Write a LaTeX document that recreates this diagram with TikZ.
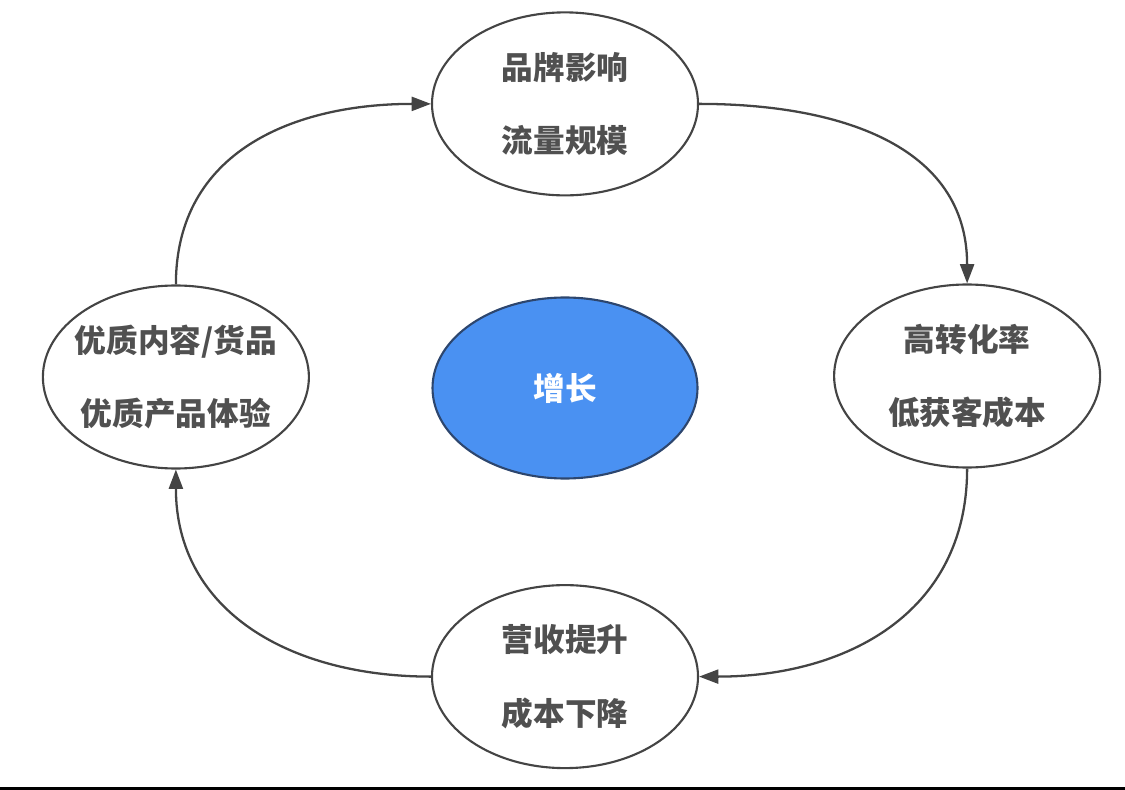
\documentclass[tikz,border=0pt]{standalone}
\usepackage{fontspec}
\newfontfamily\cjk{Noto Sans CJK SC}
\usetikzlibrary{shapes.geometric,positioning,arrows.meta}

\definecolor{txtgray}{RGB}{80,80,80}
\definecolor{linegray}{RGB}{68,68,68}
\definecolor{growblue}{RGB}{74,145,242}
\definecolor{growedge}{RGB}{45,70,110}

\begin{document}
\begin{tikzpicture}[
    stage/.style={ellipse, draw=linegray, line width=1.2pt, fill=white,
        minimum width=5.32cm, minimum height=3.66cm,
        inner xsep=-8mm, inner ysep=0pt,
        align=center, text=txtgray,
        font=\cjk\bfseries\fontsize{18}{42}\selectfont},
    core/.style={stage, fill=growblue, draw=growedge, text=white,
        minimum width=5.3cm, minimum height=3.62cm},
    flow/.style={-{Triangle[length=11pt,width=8pt]}, draw=linegray, line width=1.3pt, looseness=1.1}
]
    \useasboundingbox (0,0) rectangle (22.5,-15.8);

    \node[core] (grow) at (11.3,-7.76) {增长};
    \node[stage, above=2cm of grow] (brand) {品牌影响\\流量规模};
    \node[stage, right=2.69cm of grow, yshift=2.4mm] (convert) {高转化率\\低获客成本};
    \node[stage, below=2.09cm of grow] (revenue) {营收提升\\成本下降};
    \node[stage, left=2.43cm of grow, yshift=2.2mm] (quality) {优质内容/货品\\优质产品体验};

    \draw[flow] (brand.east) to[out=0,in=90] (convert.north);
    \draw[flow] (convert.south) to[out=-90,in=0] (revenue.east);
    \draw[flow] (revenue.west) to[out=180,in=-90] (quality.south);
    \draw[flow] (quality.north) to[out=90,in=180] (brand.west);

    % rule along the bottom edge
    \fill[black] (0,-15.74) rectangle (22.5,-15.8);
\end{tikzpicture}
\end{document}
